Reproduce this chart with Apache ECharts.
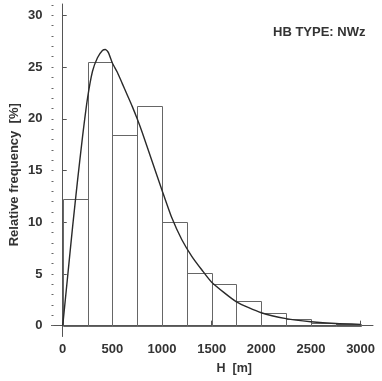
<!DOCTYPE html>
<html>
<head>
<meta charset="utf-8">
<script src="https://cdn.jsdelivr.net/npm/echarts@6/dist/echarts.min.js"></script>
<style>html,body{margin:0;padding:0;background:#fff}#c{width:382px;height:381px}</style>
</head>
<body>
<div id="c"></div>
<script>
// Histogram bins (H in m) and relative frequencies (%)
var binEdges = [0, 250, 500, 750, 1000, 1250, 1500, 1750, 2000, 2250, 2500, 2750, 3000];
var frequencies = [12.25, 25.5, 18.4, 21.2, 10.05, 5.05, 4.0, 2.35, 1.2, 0.65, 0.3, 0.15];
// Fitted curve
var curveH =    [0, 50, 100, 150, 200, 250, 300, 350, 400, 430, 460, 500, 550, 600, 650, 700, 750, 800, 900, 1000, 1100, 1200, 1300, 1400, 1500, 1750, 2000, 2250, 2500, 2750, 3000];
var curveFreq = [0, 4.8, 9.6, 14.1, 18.3, 22.0, 24.6, 25.9, 26.6, 26.7, 26.4, 25.4, 24.5, 23.4, 22.3, 21.2, 20.0, 18.7, 15.9, 13.1, 10.4, 8.3, 6.7, 5.4, 4.2, 2.3, 1.25, 0.68, 0.38, 0.2, 0.12];
// Tick labels
var xTicks = [0, 500, 1000, 1500, 2000, 2500, 3000];
var yTicks = [0, 5, 10, 15, 20, 25, 30];
var yMinorTicks = [0,1,2,3,4,5,6,7,8,9,10,11,12,13,14,15,16,17,18,19,20,21,22,23,24,25,26,27,28,29,30,31];

var histData = frequencies.map(function (f, i) { return [binEdges[i], binEdges[i + 1], f]; });
var curveData = curveH.map(function (h, i) { return [h, curveFreq[i]]; });

var chart = echarts.init(document.getElementById('c'), null, { renderer: 'canvas' });
var font = 'Liberation Sans, Arial, sans-serif';
var xMin = -113, xMax = 3125, yMin = -1.05, yMax = 31.1;

chart.setOption({
  animation: false,
  backgroundColor: '#fff',
  title: {
    text: 'HB TYPE: NWz', left: 268, top: 21,
    textStyle: { fontFamily: font, fontSize: 13, fontWeight: 'bold', color: '#333' }
  },
  grid: { left: 51.5, right: 9, top: 4, bottom: 44.5, containLabel: false, outerBoundsMode: 'none' },
  xAxis: {
    type: 'value', min: xMin, max: xMax,
    name: 'H  [m]', nameLocation: 'middle', nameGap: 26,
    nameTextStyle: { fontFamily: font, fontSize: 12.5, fontWeight: 'bold', color: '#333', padding: [0, 0, 0, 44] },
    axisLine: { show: true, lineStyle: { color: '#555', width: 1 } },
    axisTick: { show: true, inside: true, length: 5, customValues: xTicks, lineStyle: { color: '#555' } },
    axisLabel: { customValues: xTicks, fontFamily: font, fontSize: 13, fontWeight: 'bold', color: '#333', margin: 6,
      formatter: function (v) { return String(v); } },
    splitLine: { show: false }
  },
  yAxis: [{
    type: 'value', min: yMin, max: yMax,
    name: 'Relative frequency  [%]', nameLocation: 'middle', nameGap: 37, nameMoveOverlap: false,
    nameTextStyle: { fontFamily: font, fontSize: 13, fontWeight: 'bold', color: '#333', align: 'center', verticalAlign: 'middle', padding: [0, 9, 0, 0] },
    axisLine: { show: true, lineStyle: { color: '#555', width: 1 } },
    axisTick: { show: true, inside: true, length: 4, customValues: yTicks, lineStyle: { color: '#555' } },
    axisLabel: { customValues: yTicks, fontFamily: font, fontSize: 13, fontWeight: 'bold', color: '#333', margin: 9 },
    splitLine: { show: false }
  }, {
    type: 'value', min: yMin, max: yMax, position: 'left',
    axisLine: { show: false },
    axisTick: { show: true, inside: true, length: 2, customValues: yMinorTicks, lineStyle: { color: '#666' } },
    axisLabel: { show: false },
    splitLine: { show: false }
  }],
  series: [{
    type: 'custom',
    data: histData,
    encode: { x: [0, 1], y: 2 },
    renderItem: function (params, api) {
      var p0 = api.coord([api.value(0), api.value(2)]);
      var p1 = api.coord([api.value(1), 0]);
      var x0 = Math.round(p0[0]) + 0.5, x1 = Math.round(p1[0]) + 0.5;
      var y0 = Math.round(p0[1]) + 0.5, y1 = Math.round(p1[1]) + 0.5;
      return {
        type: 'rect',
        shape: { x: x0, y: y0, width: x1 - x0, height: y1 - y0 },
        style: { fill: 'rgba(0,0,0,0)', stroke: '#666', lineWidth: 1 }
      };
    },
    z: 1
  }, {
    type: 'line',
    data: curveData,
    smooth: 0.2,
    showSymbol: false,
    lineStyle: { color: '#2a2a2a', width: 1.4 },
    z: 3
  }]
});
</script>
</body>
</html>
